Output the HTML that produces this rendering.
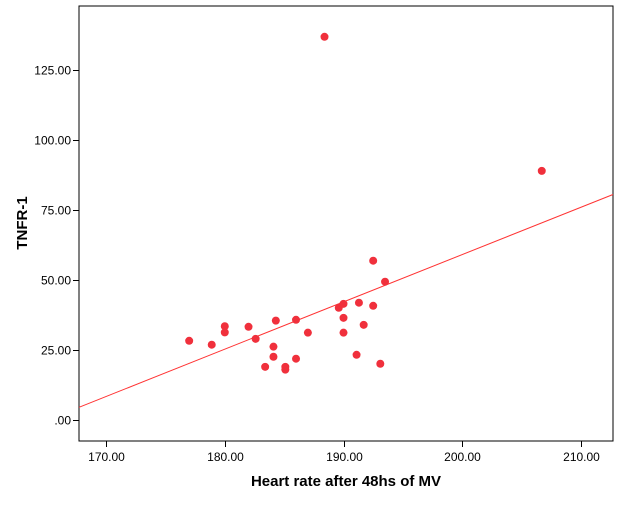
<!DOCTYPE html>
<html><head><meta charset="utf-8"><style>
body{margin:0;background:#fff;font-family:"Liberation Sans",Arial,sans-serif}
</style></head><body>
<svg id="chart" width="626" height="501" viewBox="0 0 626 501" xmlns="http://www.w3.org/2000/svg">
<rect x="0" y="0" width="626" height="501" fill="#fff"/>
<g id="plot"></g>
<text x="346" y="486" text-anchor="middle" font-size="15" font-weight="bold" fill="#000">Heart rate after 48hs of  MV</text>
<text transform="translate(27,223) rotate(-90)" text-anchor="middle" font-size="15" font-weight="bold" fill="#000">TNFR-1</text>
</svg>
<script>
const xValues=[177,178.9,180,180,182,182.6,183.4,184.1,184.1,184.3,185.1,185.1,186,186,187,188.4,189.6,190,190,190,191.1,191.3,191.7,192.5,192.5,193.1,193.5,206.7];
const yValues=[28.2,26.8,33.4,31.2,33.2,28.9,18.9,22.5,26.1,35.4,18.9,17.9,21.8,35.7,31.1,136.8,40,41.4,36.4,31.1,23.2,41.8,33.9,40.7,56.8,20,49.3,88.9];
const xTicks=[170,180,190,200,210];
const yTicks=[0,25,50,75,100,125];
const fitSlope=1.69;
const fitIntercept=-279.0;
const L=79,R=613,T=6,B=441;
const xMin=167.72,xMax=212.7,yMin=-7.6,yMax=147.8;
const sx=v=>L+(v-xMin)/(xMax-xMin)*(R-L);
const sy=v=>B-(v-yMin)/(yMax-yMin)*(B-T);
const NS="http://www.w3.org/2000/svg";
const g=document.getElementById('plot');
function mk(t,a){const e=document.createElementNS(NS,t);for(const k in a)e.setAttribute(k,a[k]);g.appendChild(e);return e;}
const frame=mk('rect',{x:L,y:T,width:R-L,height:B-T,fill:'none',stroke:'#000','stroke-width':1});


const fmt=v=>v===0?'.00':v.toFixed(2);
xTicks.forEach(v=>{
 const x=Math.round(sx(v))+0.5;
 const t=mk('line',{x1:x,x2:x,y1:B,y2:B+6,stroke:'#000'});
 
 
 const l=mk('text',{x:x,y:B+20,'text-anchor':'middle','font-size':12,fill:'#000'});
 l.textContent=fmt(v);
 
 
});
yTicks.forEach(v=>{
 const y=Math.round(sy(v))+0.5;
 const t=mk('line',{x1:L-6,x2:L,y1:y,y2:y,stroke:'#000'});
 
 
 const l=mk('text',{x:L-8,y:y+4,'text-anchor':'end','font-size':12,fill:'#000'});
 l.textContent=fmt(v);
 
 
});
const fl=mk('line',{x1:L,y1:sy(fitIntercept+fitSlope*xMin),x2:R,y2:sy(fitIntercept+fitSlope*xMax),stroke:'#f33','stroke-width':1});


xValues.forEach((xv,i)=>{
 const c=mk('circle',{cx:sx(xv),cy:sy(yValues[i]),r:4,fill:'#f0303c'});
 
 
});
</script>
</body></html>
